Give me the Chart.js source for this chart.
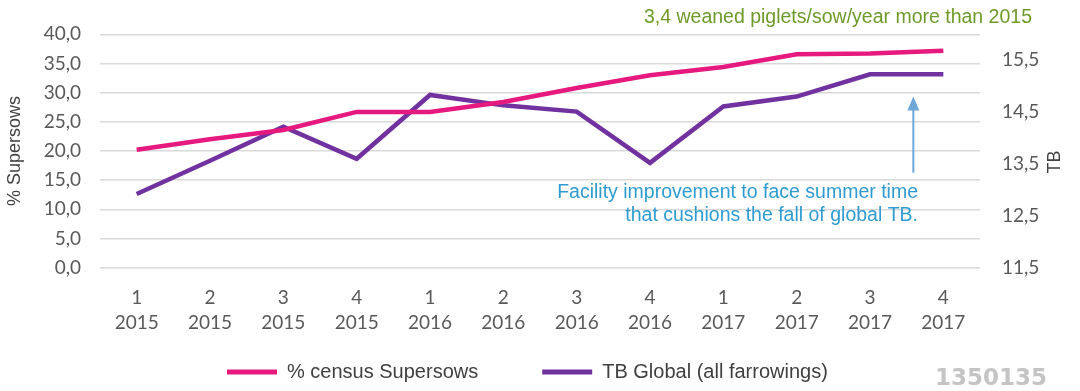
<!DOCTYPE html>
<html>
<head>
<meta charset="utf-8">
<script src="https://cdn.jsdelivr.net/npm/chart.js@4"></script>
<style>
  body { margin: 0; background: #fff; }
  #wrap { width: 1080px; height: 391px; position: relative; }
</style>
</head>
<body>
<div id="wrap"><canvas id="chart"></canvas></div>
<script>
const quarters = ["1", "2", "3", "4", "1", "2", "3", "4", "1", "2", "3", "4"]
const years = ["2015", "2015", "2015", "2015", "2016", "2016", "2016", "2016", "2017", "2017", "2017", "2017"]
const supersows = [20.2, 22.0, 23.6, 26.7, 26.7, 28.4, 30.8, 33.0, 34.4, 36.6, 36.7, 37.2]
const tbGlobal = [12.92, 13.56, 14.22, 13.6, 14.83, 14.63, 14.51, 13.52, 14.61, 14.8, 15.23, 15.23]
const rightTicks = [11.5, 12.5, 13.5, 14.5, 15.5]

const labels = quarters.map((q, i) => [q, years[i]])
const pink = "#E6197F"
const purple = "#7132A0"
const tickFont = { family: "Lato, 'Open Sans', sans-serif", size: 19, lineHeight: 1.3 }
const textFont = "'Liberation Sans', Arial, sans-serif"
const fmt = (v) => v.toFixed(1).replace(".", ",")

// notes, right axis title and legend drawn on top of the chart
const notes = {
  id: "notes",
  afterDraw(chart) {
    const ctx = chart.ctx
    const x = chart.scales.x
    const yr = chart.scales.yR
    ctx.save()
    ctx.font = "19.5px " + textFont
    ctx.fillStyle = "#6E9A2A"
    ctx.textAlign = "right"
    ctx.textBaseline = "middle"
    ctx.fillText("3,4 weaned piglets/sow/year more than 2015", 1032, 18)

    ctx.fillStyle = "#2E9CD0"
    ctx.fillText("Facility improvement to face summer time", 918, 193)
    ctx.fillText("that cushions the fall of global TB.", 918, 216)

    // arrow
    const ax = x.getPixelForValue(11) - 30
    const top = yr.getPixelForValue(14.8)
    const bot = yr.getPixelForValue(13.33)
    ctx.strokeStyle = "#6FA8D8"
    ctx.fillStyle = "#6FA8D8"
    ctx.lineWidth = 2
    ctx.beginPath()
    ctx.moveTo(ax, bot)
    ctx.lineTo(ax, top + 8)
    ctx.stroke()
    ctx.beginPath()
    ctx.moveTo(ax, top)
    ctx.lineTo(ax - 6, top + 14)
    ctx.lineTo(ax + 6, top + 14)
    ctx.closePath()
    ctx.fill()

    // right axis title, reads bottom to top
    ctx.save()
    ctx.translate(1055, 162)
    ctx.rotate(-Math.PI / 2)
    ctx.textAlign = "center"
    ctx.fillStyle = "#404040"
    ctx.font = "18px " + textFont
    ctx.fillText("TB", 0, 0)
    ctx.restore()

    // legend
    ctx.font = "20px " + textFont
    ctx.textAlign = "left"
    let lx = 227
    const ly = 372
    chart.data.datasets.forEach((ds) => {
      ctx.fillStyle = ds.borderColor
      ctx.fillRect(lx, ly - 2.5, 50, 5)
      ctx.fillStyle = "#404040"
      ctx.fillText(ds.label, lx + 60, ly)
      lx += 60 + ctx.measureText(ds.label).width + 64
    })

    ctx.font = "bold 23px 'DejaVu Sans', sans-serif"
    ctx.fillStyle = "#c4c4c4"
    ctx.fillText("1350135", 935, 379)
    ctx.restore()
  }
}

new Chart(document.getElementById("chart"), {
  type: "line",
  data: {
    labels: labels,
    datasets: [
      {
        label: "% census Supersows",
        data: supersows,
        borderColor: pink,
        backgroundColor: pink,
        borderWidth: 4.5,
        pointRadius: 0,
        yAxisID: "y",
      },
      {
        label: "TB Global (all farrowings)",
        data: tbGlobal,
        borderColor: purple,
        backgroundColor: purple,
        borderWidth: 4.5,
        pointRadius: 0,
        yAxisID: "yR",
      },
    ],
  },
  options: {
    responsive: true,
    maintainAspectRatio: false,
    animation: false,
    layout: { padding: { top: 28, left: 0, right: 0, bottom: 38 } },
    plugins: {
      tooltip: { enabled: false },
      legend: { display: false },
    },
    scales: {
      x: {
        offset: true,
        grid: { display: false, drawTicks: false },
        border: { display: false },
        ticks: { color: "#595959", font: tickFont, maxRotation: 0, padding: 18 },
      },
      y: {
        position: "left",
        min: 0,
        max: 40,
        afterFit: (axis) => { axis.width = 100 },
        ticks: {
          stepSize: 5,
          maxTicksLimit: 20,
          color: "#595959",
          font: tickFont,
          padding: 19,
          callback: fmt,
        },
        grid: { color: "#d9d9d9", lineWidth: 1.5, drawTicks: false },
        border: { display: false },
        title: {
          display: true,
          text: "% Supersows",
          color: "#404040",
          font: { family: textFont, size: 18 },
        },
      },
      yR: {
        position: "right",
        min: 11.5,
        max: 16.0,
        afterFit: (axis) => { axis.width = 100 },
        afterBuildTicks: (axis) => {
          axis.ticks = rightTicks.map((v) => ({ value: v }))
        },
        ticks: {
          color: "#595959",
          font: tickFont,
          padding: 22,
          callback: fmt,
        },
        grid: { display: false, drawTicks: false },
        border: { display: false },
      },
    },
  },
  plugins: [notes],
})
</script>
</body>
</html>
